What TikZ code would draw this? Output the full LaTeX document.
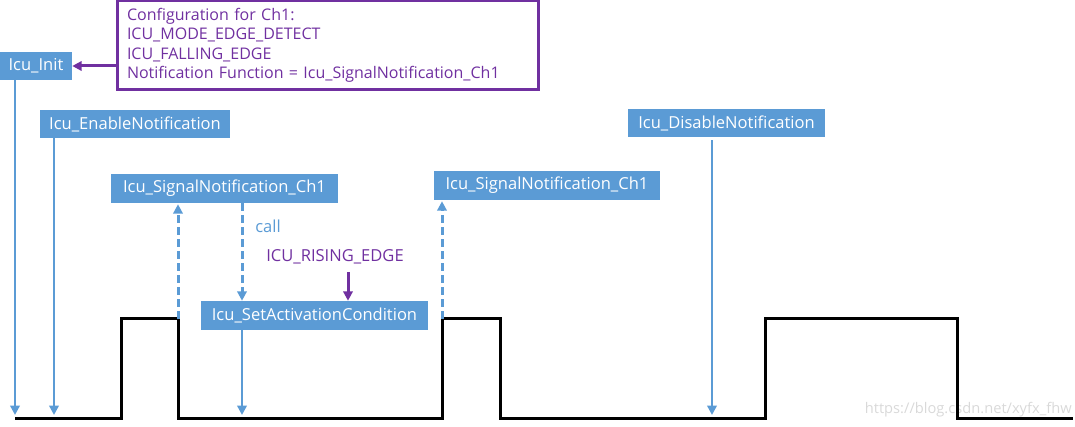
\documentclass[tikz,border=0pt]{standalone}
\usepackage{fontspec}
\setmainfont{Open Sans}
\usetikzlibrary{arrows.meta}
\definecolor{boxblue}{HTML}{5B9BD5}
\definecolor{cfgpurple}{HTML}{7030A0}
\newdimen\pxu \pxu=0.75pt
\tikzset{
  fnbox/.style={fill=boxblue, text=white, inner sep=0pt, font=\fontsize{12.4pt}{14pt}\selectfont, anchor=center},
  blueline/.style={draw=boxblue, line width=2.6\pxu, -{Triangle[length=7pt,width=7pt]}},
  bluedash/.style={blueline, line width=3\pxu, dash pattern=on 6pt off 3pt},
  purplearrow/.style={draw=cfgpurple, line width=3\pxu, -{Triangle[length=7pt,width=7pt]}},
  wave/.style={draw=black, line width=3\pxu, line join=miter},
}
\begin{document}
\begin{tikzpicture}[x=0.75pt,y=-0.75pt]
\useasboundingbox (0,0) rectangle (1075,427);
% boxes
\node[fnbox, minimum width=72\pxu, minimum height=28\pxu] (init) at (36,66) {Icu\_Init};
\node[draw=cfgpurple, line width=3\pxu, text=cfgpurple, align=left, text width=401\pxu, inner xsep=10\pxu, inner ysep=0pt, minimum height=89\pxu, font=\fontsize{12pt}{14.6pt}\selectfont] (cfg) at (327.5,45.5) {Configuration for Ch1:\\ICU\_MODE\_EDGE\_DETECT\\ICU\_FALLING\_EDGE\\Notification Function = Icu\_SignalNotification\_Ch1};
\node[fnbox, minimum width=190\pxu, minimum height=28\pxu] (en) at (135,124) {Icu\_EnableNotification};
\node[fnbox, minimum width=227\pxu, minimum height=29\pxu] (sn1) at (224.5,188.5) {Icu\_SignalNotification\_Ch1};
\node[fnbox, minimum width=227\pxu, minimum height=29\pxu] (sa) at (314.5,315.5) {Icu\_SetActivationCondition};
\node[fnbox, minimum width=226\pxu, minimum height=29\pxu] (sn2) at (547,185.5) {Icu\_SignalNotification\_Ch1};
\node[fnbox, minimum width=197\pxu, minimum height=28\pxu] (dis) at (726.5,123) {Icu\_DisableNotification};
% labels
\node[text=boxblue, font=\fontsize{12.4pt}{14pt}\selectfont] (call) at (268,226) {call};
\node[text=cfgpurple, font=\fontsize{12.4pt}{14pt}\selectfont] (re) at (335,257) {ICU\_RISING\_EDGE};
\node[text=gray!30, font=\fontsize{11pt}{13pt}\selectfont, anchor=east, inner sep=0pt] (wm) at (1072,410) {https://blog.csdn.net/xyfx\_fhw};
% coordinates
\coordinate (b0) at (15,415);
\coordinate (b1) at (54,415);
\coordinate (b2) at (242,415);
\coordinate (b3) at (712,415);
\coordinate (ra) at (348,272);
\coordinate (w0) at (15,419);
\coordinate (r1) at (121,319);
\coordinate (p1) at (178,319);
\coordinate (p2) at (442,319);
\coordinate (f2) at (500,319);
\coordinate (r3) at (765,319);
\coordinate (f3) at (957,319);
\coordinate (w1) at (1073,419);
% waveform
\draw[wave] (w0) -- (w0 -| r1) -- (r1) -- (p1) -- (p1 |- w0) -- (p2 |- w0) -- (p2) -- (f2) -- (f2 |- w0) -- (r3 |- w0) -- (r3) -- (f3) -- (f3 |- w0) -- (w1);
% connectors
\draw[purplearrow] (cfg.west |- init.east) -- (init.east);
\draw[blueline] (init.south -| b0) -- (b0);
\draw[blueline] (en.south -| b1) -- (b1);
\draw[blueline] (sa.south -| b2) -- (b2);
\draw[blueline] ([yshift=-3\pxu]dis.south -| b3) -- (b3);
\draw[bluedash] (p1) -- ([yshift=-1\pxu]sn1.south -| p1);
\draw[bluedash] (p2) -- ([yshift=-1\pxu]sn2.south -| p2);
\draw[bluedash] (sn1.south -| b2) -- (sa.north -| b2);
\draw[purplearrow] (ra) -- (sa.north -| ra);
\end{tikzpicture}
\end{document}
